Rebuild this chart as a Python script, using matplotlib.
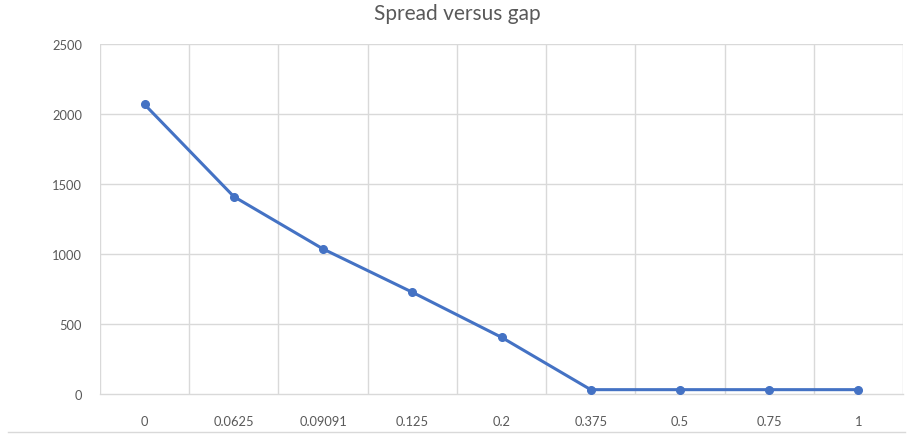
import matplotlib
matplotlib.use("Agg")
import matplotlib.pyplot as plt
from matplotlib.lines import Line2D

# data
gaps = ["0", "0.0625", "0.09091", "0.125", "0.2", "0.375", "0.5", "0.75", "1"]
spread = [2068, 1410, 1036, 727, 405, 31, 31, 31, 31]
y_ticks = [0, 500, 1000, 1500, 2000, 2500]

line_color = "#4472C4"
grid_color = "#D9D9D9"
text_color = "#595959"

plt.rcParams["font.family"] = ["Lato", "DejaVu Sans"]

fig = plt.figure(figsize=(9.15, 4.35), dpi=100)
ax = fig.add_axes([100 / 915, 40 / 435, 803 / 915, 350 / 435])

x = list(range(len(gaps)))
ax.plot(x, spread, color=line_color, lw=2.2, marker="o", ms=5.5,
        solid_capstyle="round", zorder=3)

ax.set_xlim(-0.5, len(gaps) - 0.5)
ax.set_ylim(0, 2500)
ax.set_yticks(y_ticks)
ax.set_yticklabels([str(t) for t in y_ticks])
ax.set_xticks(x)
ax.set_xticklabels(gaps)

# excel-style grid: horizontal at ticks, vertical at category boundaries
for t in y_ticks[1:]:
    ax.axhline(t, color=grid_color, lw=1.0, zorder=1)
for b in range(len(gaps) + 1):
    ax.axvline(b - 0.5, color=grid_color, lw=1.0, zorder=1)

for s in ["top", "right", "left"]:
    ax.spines[s].set_visible(False)
ax.spines["bottom"].set_color(grid_color)
ax.spines["bottom"].set_linewidth(1.0)

ax.tick_params(axis="both", length=0, colors=text_color, labelsize=9.3)
ax.tick_params(axis="x", pad=15)
ax.tick_params(axis="y", pad=13)

fig.text(0.5, 1 - 14 / 435, "Spread versus gap", ha="center", va="center",
         fontsize=15, color=text_color)

# thin rule along the bottom of the chart area
fig.add_artist(Line2D([8 / 915, 905 / 915], [2 / 435, 2 / 435],
                      transform=fig.transFigure, color=grid_color, lw=1.0))

fig.savefig("out.png", dpi=100)
